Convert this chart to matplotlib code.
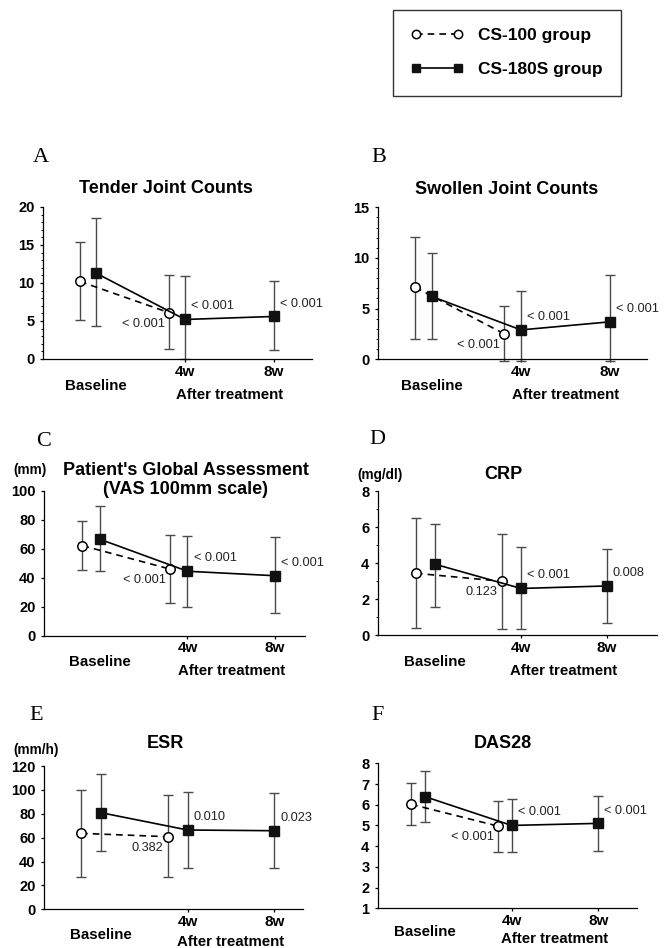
import matplotlib.pyplot as plt
from matplotlib.ticker import MultipleLocator

plt.rcParams['font.family'] = ['Liberation Sans', 'DejaVu Sans']

visit_pos = [1, 2, 3]  # baseline, 4w, 8w
xtick_labels = ['4w', '8w']

# A: tender joint counts
tjc_cs100 = [10.2, 6.1]
tjc_cs100_hi = [15.4, 11.0]
tjc_cs100_lo = [5.1, 1.3]
tjc_cs180 = [11.3, 5.2, 5.6]
tjc_cs180_hi = [18.6, 10.9, 10.3]
tjc_cs180_lo = [4.3, 0.0, 1.2]
tjc_p = ['< 0.001', '< 0.001', '< 0.001']

# B: swollen joint counts
sjc_cs100 = [7.1, 2.5]
sjc_cs100_hi = [12.1, 5.3]
sjc_cs100_lo = [2.0, -0.2]
sjc_cs180 = [6.2, 2.9, 3.7]
sjc_cs180_hi = [10.5, 6.7, 8.3]
sjc_cs180_lo = [2.0, -0.2, -0.2]
sjc_p = ['< 0.001', '< 0.001', '< 0.001']

# C: patient's global assessment
pga_cs100 = [62.2, 46.0]
pga_cs100_hi = [79.0, 69.6]
pga_cs100_lo = [45.4, 22.3]
pga_cs180 = [66.6, 44.5, 41.4]
pga_cs180_hi = [89.6, 68.9, 68.4]
pga_cs180_lo = [44.5, 20.0, 15.8]
pga_p = ['< 0.001', '< 0.001', '< 0.001']

# D: CRP
crp_cs100 = [3.44, 3.0]
crp_cs100_hi = [6.5, 5.63]
crp_cs100_lo = [0.4, 0.35]
crp_cs180 = [3.94, 2.6, 2.74]
crp_cs180_hi = [6.19, 4.9, 4.8]
crp_cs180_lo = [1.6, 0.35, 0.7]
crp_p = ['0.123', '< 0.001', '0.008']

# E: ESR
esr_cs100 = [63.6, 60.8]
esr_cs100_hi = [99.9, 95.5]
esr_cs100_lo = [27.0, 27.0]
esr_cs180 = [80.9, 66.4, 65.8]
esr_cs180_hi = [113.6, 98.5, 97.7]
esr_cs180_lo = [48.8, 34.3, 34.3]
esr_p = ['0.382', '0.010', '0.023']

# F: DAS28
das_cs100 = [6.02, 4.97]
das_cs100_hi = [7.04, 6.2]
das_cs100_lo = [5.02, 3.7]
das_cs180 = [6.39, 5.0, 5.1]
das_cs180_hi = [7.63, 6.28, 6.44]
das_cs180_lo = [5.17, 3.7, 3.75]
das_p = ['< 0.001', '< 0.001', '< 0.001']

W, H = 671, 948
fig = plt.figure(figsize=(W / 100, H / 100), dpi=100)


def px_rect(left, right, top, bottom):
    return [left / W, 1 - bottom / H, (right - left) / W, (bottom - top) / H]


panels = [
    dict(letter='A', title='Tender Joint Counts', rect=(43, 312, 207, 359), xlim=(0.404, 3.427),
         ylim=(0, 20), yticks=[0, 5, 10, 15, 20], minor=1, off=0.18, title_x=1.78, title_dy=13,
         letter_xy=(41, 157), unit=None, base_dy=-19.5, after_dy=-26,
         data=(tjc_cs100, tjc_cs100_hi, tjc_cs100_lo, tjc_cs180, tjc_cs180_hi, tjc_cs180_lo, tjc_p)),
    dict(letter='B', title='Swollen Joint Counts', rect=(377.7, 646.7, 207.3, 359.3), xlim=(0.394, 3.41),
         ylim=(0, 15), yticks=[0, 5, 10, 15], minor=1, off=0.185, title_x=1.84, title_dy=13,
         letter_xy=(379, 157), unit=None, base_dy=-19.5, after_dy=-26,
         data=(sjc_cs100, sjc_cs100_hi, sjc_cs100_lo, sjc_cs180, sjc_cs180_hi, sjc_cs180_lo, sjc_p)),
    dict(letter='C', title="Patient's Global Assessment\n(VAS 100mm scale)", rect=(44, 305, 491, 635.6),
         xlim=(0.36, 3.343), ylim=(0, 100), yticks=[0, 20, 40, 60, 80, 100], minor=None, off=0.2,
         title_x=1.98, title_dy=8, letter_xy=(44, 441), unit=('(mm)', 30, 470),
         base_dy=-19, after_dy=-25.5,
         data=(pga_cs100, pga_cs100_hi, pga_cs100_lo, pga_cs180, pga_cs180_hi, pga_cs180_lo, pga_p)),
    dict(letter='D', title='CRP', rect=(377.7, 657, 491, 635.4), xlim=(0.329, 3.585),
         ylim=(0, 8), yticks=[0, 2, 4, 6, 8], minor=1, off=0.225, title_x=1.79, title_dy=12,
         letter_xy=(377, 440), unit=('(mg/dl)', 380, 475), base_dy=-19, after_dy=-25.5,
         data=(crp_cs100, crp_cs100_hi, crp_cs100_lo, crp_cs180, crp_cs180_hi, crp_cs180_lo, crp_p)),
    dict(letter='E', title='ESR', rect=(44, 303, 766, 909.3), xlim=(0.342, 3.331),
         ylim=(0, 120), yticks=[0, 20, 40, 60, 80, 100, 120], minor=None, off=0.23, title_x=1.74,
         title_dy=16, letter_xy=(36, 715), unit=('(mm/h)', 36, 750), base_dy=-18.5, after_dy=-23.5,
         data=(esr_cs100, esr_cs100_hi, esr_cs100_lo, esr_cs180, esr_cs180_hi, esr_cs180_lo, esr_p)),
    dict(letter='F', title='DAS28', rect=(377.7, 636.7, 763.3, 908.3), xlim=(0.454, 3.443),
         ylim=(1, 8), yticks=[1, 2, 3, 4, 5, 6, 7, 8], minor=None, off=0.16, title_x=1.90,
         title_dy=14, letter_xy=(378, 715), unit=None, base_dy=-17, after_dy=-22,
         data=(das_cs100, das_cs100_hi, das_cs100_lo, das_cs180, das_cs180_hi, das_cs180_lo, das_p)),
]

handles = None
for pan in panels:
    ax = fig.add_axes(px_rect(*pan['rect']))
    m100, hi100, lo100, m180, hi180, lo180, pvals = pan['data']
    off = pan['off']
    x100 = [visit_pos[0] - off, visit_pos[1] - off]
    x180 = visit_pos

    for xs, m, hi, lo in [(x100, m100, hi100, lo100), (x180, m180, hi180, lo180)]:
        err = [[a - b for a, b in zip(m, lo)], [b - a for a, b in zip(m, hi)]]
        eb = ax.errorbar(xs, m, yerr=err, fmt='none', ecolor='#4a4a4a', elinewidth=1.0,
                         capsize=3.5, capthick=1.0, zorder=2)
        for art in list(eb.lines[1]) + list(eb.lines[2]):
            art.set_clip_on(False)

    l1, = ax.plot(x100, m100, linestyle=(0, (4, 3)), color='black', lw=1.2, marker='o', ms=6.8,
                  mfc='white', mec='black', mew=1.1, zorder=4, label='CS-100 group', clip_on=False)
    l2, = ax.plot(x180, m180, linestyle='-', color='black', lw=1.2, marker='s', ms=7.2,
                  mfc='#111111', mec='#111111', zorder=5, label='CS-180S group', clip_on=False)
    if handles is None:
        handles = [l1, l2]

    # p-values
    ax.annotate(pvals[0], (x100[1], m100[1]), xytext=(-3, -8), textcoords='offset points',
                ha='right', va='center', fontsize=9.2, color='#222222')
    ax.annotate(pvals[1], (x180[1], m180[1]), xytext=(4.5, 9.5), textcoords='offset points',
                ha='left', va='center', fontsize=9.2, color='#222222')
    ax.annotate(pvals[2], (x180[2], m180[2]), xytext=(4.3, 9), textcoords='offset points',
                ha='left', va='center', fontsize=9.2, color='#222222')

    ax.set_xlim(*pan['xlim'])
    ax.set_ylim(*pan['ylim'])
    for s in ['top', 'right']:
        ax.spines[s].set_visible(False)
    for s in ['left', 'bottom']:
        ax.spines[s].set_linewidth(0.9)
        ax.spines[s].set_color('black')

    ax.set_yticks(pan['yticks'])
    ax.set_yticklabels([str(t) for t in pan['yticks']], fontweight='bold', fontsize=10.5)
    ax.set_xticks(visit_pos[1:])
    ax.set_xticklabels(xtick_labels, fontweight='bold', fontsize=11)
    ax.tick_params(axis='y', length=2.5, width=0.9, pad=3.5)
    ax.tick_params(axis='x', length=2.5, width=0.9, pad=1.5)
    if pan['minor']:
        ax.yaxis.set_minor_locator(MultipleLocator(pan['minor']))
        ax.tick_params(axis='y', which='minor', length=1.5, width=0.7)

    ax.annotate('Baseline', (visit_pos[0], 0), xycoords=('data', 'axes fraction'),
                xytext=(0, pan['base_dy']), textcoords='offset points', ha='center', va='center',
                fontsize=10.8, fontweight='bold')
    ax.annotate('After treatment', ((visit_pos[1] + visit_pos[2]) / 2, 0),
                xycoords=('data', 'axes fraction'), xytext=(0, pan['after_dy']),
                textcoords='offset points', ha='center', va='center', fontsize=10.8,
                fontweight='bold', annotation_clip=False)

    ax.annotate(pan['title'], (pan['title_x'], 1), xycoords=('data', 'axes fraction'),
                xytext=(0, pan['title_dy']), textcoords='offset points', ha='center', va='center',
                fontsize=13, fontweight='bold', linespacing=1.2)

    lx, ly = pan['letter_xy']
    fig.text(lx / W, 1 - ly / H, pan['letter'], ha='center', va='center', fontsize=16,
             family=['Liberation Serif', 'DejaVu Serif'])
    if pan['unit']:
        txt, ux, uy = pan['unit']
        fig.text(ux / W, 1 - uy / H, txt, ha='center', va='center', fontsize=9.8,
                 fontweight='bold')

leg = fig.legend(handles=handles, loc='upper left', bbox_to_anchor=(393 / W, 1 - 10 / H),
                 frameon=True, fancybox=False, edgecolor='black', numpoints=2,
                 prop={'weight': 'bold', 'size': 12.5}, handlelength=3.0, handletextpad=0.85,
                 labelspacing=1.08, borderpad=1.05, borderaxespad=0)
leg.get_frame().set_linewidth(1.0)
for h in leg.legend_handles:
    h.set_markersize(6)

fig.savefig('out.png', dpi=100)
